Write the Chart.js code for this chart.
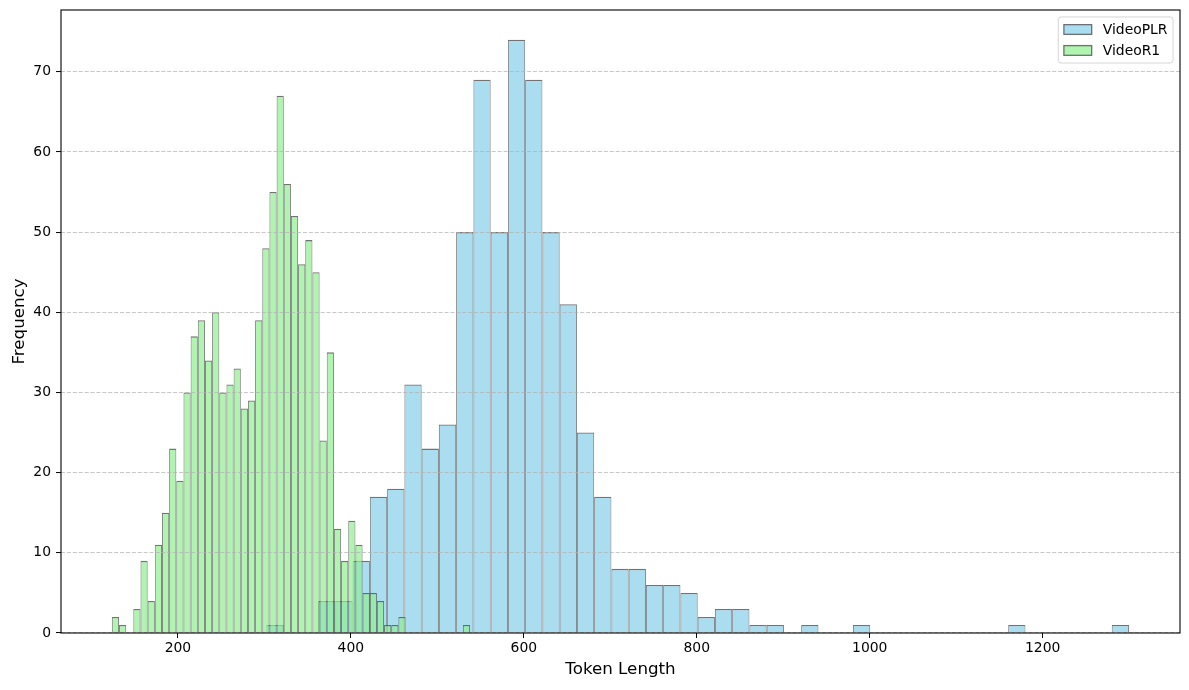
<!DOCTYPE html>
<html>
<head>
<meta charset="utf-8">
<script src="https://cdn.jsdelivr.net/npm/chart.js@4.4.0/dist/chart.umd.min.js"></script>
<style>
  html, body { margin: 0; padding: 0; background: #fff; }
  #wrap { width: 1189px; height: 690px; }
</style>
</head>
<body>
<div id="wrap"><canvas id="hist" width="1189" height="690"></canvas></div>
<script>
// histogram bins (50 per series)
const seriesNames = ['VideoPLR', 'VideoR1'];
const plrBinStart = 302.3, plrBinWidth = 19.95;
const r1BinStart = 123.6, r1BinWidth = 8.284;
const plrCounts = [1, 0, 0, 4, 4, 9, 17, 18, 31, 23, 26, 50, 69, 50, 74, 69, 50, 41, 25, 17,
  8, 8, 6, 6, 5, 2, 3, 3, 1, 1, 0, 1, 0, 0, 1, 0, 0, 0, 0, 0,
  0, 0, 0, 1, 0, 0, 0, 0, 0, 1];
const r1Counts = [2, 1, 0, 3, 9, 4, 11, 15, 23, 19, 30, 37, 39, 34, 40, 30, 31, 33, 28, 29,
  39, 48, 55, 67, 56, 52, 46, 49, 45, 24, 35, 13, 9, 14, 11, 5, 5, 4, 1, 1,
  2, 0, 0, 0, 0, 0, 0, 0, 0, 1];
const xTickValues = [200, 400, 600, 800, 1000, 1200];
const yTickValues = [0, 10, 20, 30, 40, 50, 60, 70];

const X_MIN = 64.8, X_MAX = 1358.8, Y_MAX = 77.7;
const FS = 13.9;

function binPoints(start, width, counts) {
  return counts.map((c, i) => ({ x: start + (i + 0.5) * width, y: c }));
}

Chart.defaults.font.family = '"DejaVu Sans", sans-serif';
Chart.defaults.font.size = FS;
Chart.defaults.color = '#000';

const barEdge = 'rgba(80,80,80,0.8)';
const barBorder = { top: 1.3, left: 0.9, right: 0.9, bottom: 0 };

// black box around the axes + matplotlib style legend in the upper right
const axesFrame = {
  id: 'axesFrame',
  afterDraw(chart) {
    const { ctx, chartArea: a } = chart;
    ctx.save();
    ctx.strokeStyle = '#000';
    ctx.lineWidth = 1.1;
    ctx.strokeRect(a.left, a.top, a.right - a.left, a.bottom - a.top);

    ctx.font = FS + 'px "DejaVu Sans"';
    const items = chart.data.datasets.map(ds => ({ label: ds.label, fill: ds.backgroundColor, stroke: ds.borderColor }));
    const textW = Math.max(...items.map(it => ctx.measureText(it.label).width));
    const pad = 0.4 * FS, handleW = 2 * FS, handleH = 0.7 * FS, gap = 0.8 * FS, rowH = 14, spacing = 0.5 * FS;
    const w = pad * 2 + handleW + gap + textW;
    const h = pad * 2 + rowH * items.length + spacing * (items.length - 1);
    const x = a.right - 0.5 * FS - w;
    const y = a.top + 0.5 * FS;
    ctx.beginPath();
    ctx.roundRect(x, y, w, h, 0.2 * FS);
    ctx.fillStyle = 'rgba(255,255,255,0.8)';
    ctx.fill();
    ctx.strokeStyle = 'rgba(204,204,204,0.8)';
    ctx.lineWidth = 1;
    ctx.stroke();
    items.forEach((it, i) => {
      const cy = y + pad + rowH / 2 + i * (rowH + spacing);
      const hx = x + pad;
      ctx.fillStyle = it.fill;
      ctx.fillRect(hx, cy - handleH / 2, handleW, handleH);
      ctx.strokeStyle = it.stroke;
      ctx.lineWidth = 1.3;
      ctx.strokeRect(hx, cy - handleH / 2, handleW, handleH);
      ctx.fillStyle = '#000';
      ctx.textBaseline = 'middle';
      ctx.fillText(it.label, hx + handleW + gap, cy + 1);
    });
    ctx.restore();
  }
};

new Chart(document.getElementById('hist'), {
  type: 'bar',
  data: {
    datasets: [
      {
        label: seriesNames[0],
        data: binPoints(plrBinStart, plrBinWidth, plrCounts),
        xAxisID: 'x',
        order: 2,
        backgroundColor: 'rgba(135,206,235,0.7)',
        borderColor: barEdge,
        borderWidth: barBorder,
        barPercentage: 1,
        categoryPercentage: 1,
        grouped: false,
        inflateAmount: 0
      },
      {
        label: seriesNames[1],
        data: binPoints(r1BinStart, r1BinWidth, r1Counts),
        xAxisID: 'x2',
        order: 1,
        backgroundColor: 'rgba(144,238,144,0.7)',
        borderColor: barEdge,
        borderWidth: barBorder,
        barPercentage: 1,
        categoryPercentage: 1,
        grouped: false,
        inflateAmount: 0
      }
    ]
  },
  options: {
    responsive: false,
    animation: false,
    devicePixelRatio: 1,
    layout: { padding: { left: 0, right: 9, top: 10, bottom: 0 } },
    plugins: { legend: { display: false }, tooltip: { enabled: false } },
    scales: {
      x: {
        type: 'linear',
        position: 'bottom',
        min: X_MIN,
        max: X_MAX,
        offset: false,
        afterBuildTicks: s => { s.ticks = xTickValues.map(v => ({ value: v })); },
        afterFit: s => { s.height = 57; s.paddingLeft = 0; s.paddingRight = 0; },
        grid: { display: true, drawOnChartArea: false, drawTicks: true, tickLength: 5, tickColor: '#000', tickWidth: 1, offset: false },
        border: { display: false },
        ticks: { padding: 2, maxRotation: 0, autoSkip: false, color: '#000', callback: v => String(v) },
        title: { display: true, text: 'Token Length', color: '#000', font: { size: 16.7 }, padding: { top: 0, bottom: 10 } }
      },
      x2: {
        type: 'linear',
        display: false,
        min: X_MIN,
        max: X_MAX,
        offset: false,
        grid: { offset: false }
      },
      y: {
        type: 'linear',
        min: 0,
        max: Y_MAX,
        afterBuildTicks: s => { s.ticks = yTickValues.map(v => ({ value: v })); },
        afterFit: s => { s.width = 61; s.paddingTop = 0; s.paddingBottom = 0; },
        grid: { color: 'rgba(176,176,176,0.7)', lineWidth: 1.1, drawTicks: true, tickLength: 5, tickColor: '#000', tickWidth: 1, z: 1 },
        border: { display: false, dash: [4.1, 1.8] },
        ticks: { padding: 5, color: '#000', callback: v => String(v) },
        title: { display: true, text: 'Frequency', color: '#000', font: { size: 16.7 }, padding: { top: 10, bottom: 0 } }
      }
    }
  },
  plugins: [axesFrame]
});
</script>
</body>
</html>
